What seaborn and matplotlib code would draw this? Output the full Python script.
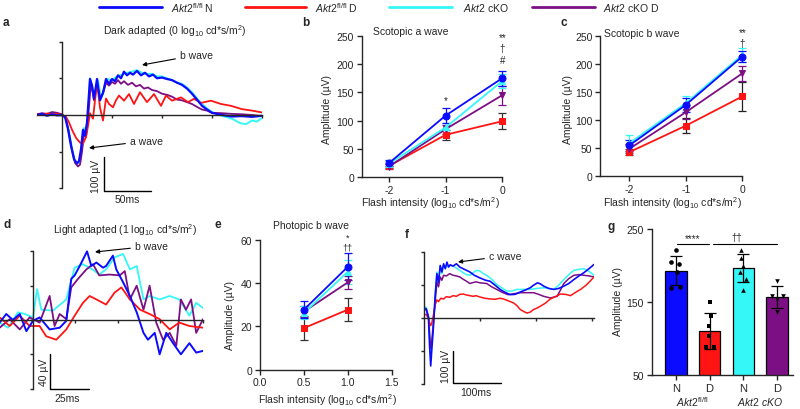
import numpy as np
import pandas as pd
import matplotlib
matplotlib.use('Agg')
import matplotlib.pyplot as plt
import seaborn as sns
from matplotlib.lines import Line2D

# group colours
BLUE = '#0b0bff'
RED = '#ff1414'
CYAN = '#35f7f7'
PURPLE = '#7d0f85'

# ---------------- data ----------------
# a: dark adapted ERG traces (time ms, amplitude uV)
a_n_t = [-25, -20, -15, -10, -5, 0, 3, 6, 9, 12, 15, 17, 19, 21, 23, 25, 28, 30, 32, 35, 38, 41, 44, 47, 50, 53, 56, 59, 62, 65, 68, 71, 75, 79, 83, 87, 91, 95, 100, 105, 110, 115, 120, 125, 130, 135, 140, 145, 150, 155, 160, 170, 180, 190, 200]
a_n_v = [0, 3, -2, 2, -1, 0, -5, -38, -84, -120, -132, -125, -93, -40, -56, -20, 98, 80, 44, 98, 40, 60, 98, 85, 98, 92, 108, 100, 118, 108, 115, 110, 120, 108, 115, 105, 110, 100, 102, 98, 95, 88, 82, 72, 58, 42, 25, 15, 6, 3, 0, -4, -3, -5, -2]
a_c_t = [-25, -15, -5, 0, 4, 7, 10, 13, 16, 18, 20, 22, 24, 26, 28, 31, 33, 36, 39, 42, 45, 50, 55, 60, 65, 70, 75, 80, 85, 90, 95, 100, 105, 110, 115, 120, 125, 130, 135, 140, 145, 150, 160, 170, 178, 184, 190, 195, 200]
a_c_v = [2, 0, 3, 0, -10, -45, -90, -125, -130, -128, -90, -35, -50, 0, 100, 70, 45, 95, 45, 70, 98, 95, 105, 110, 115, 118, 122, 115, 112, 112, 105, 105, 100, 95, 88, 85, 75, 62, 45, 30, 18, 8, -2, -10, -22, -25, -15, -18, -8]
a_cd_t = [-25, -20, -15, -10, -5, 0, 4, 7, 10, 13, 16, 18, 20, 22, 24, 26, 29, 32, 35, 38, 41, 44, 47, 50, 53, 56, 59, 62, 66, 70, 74, 78, 82, 86, 90, 95, 100, 105, 110, 115, 120, 125, 130, 135, 140, 145, 150, 160, 170, 180, 190, 200]
a_cd_v = [2, 5, 3, 8, 6, 2, -10, -50, -95, -130, -140, -135, -100, -50, -60, -10, 90, 40, 85, 45, 60, 88, 80, 90, 85, 95, 85, 92, 82, 88, 78, 82, 72, 75, 68, 65, 58, 55, 50, 42, 40, 35, 30, 22, 15, 12, 6, 5, 3, 2, 0, -3]
a_d_t = [-25, -20, -15, -10, -5, 0, 4, 7, 10, 14, 18, 21, 24, 26, 28, 31, 35, 38, 41, 44, 47, 51, 54, 57, 62, 67, 72, 78, 85, 92, 99, 104, 110, 119, 126, 132, 139, 149, 159, 169, 180, 190, 200]
a_d_v = [3, 0, 4, 2, 3, 0, -5, -20, -40, -62, -75, -78, -60, -30, 5, -10, 90, 20, -15, 45, 30, 21, 40, 53, 39, 57, 30, 62, 35, 57, 25, 53, 39, 48, 35, 44, 33, 39, 30, 25, 16, 12, 7]

# b: scotopic a wave (log intensity, mean, sem)
sa_x = [-2, -1, 0]
sa_n, sa_n_err = [25, 109, 175], [5, 13, 13]
sa_d, sa_d_err = [20, 75, 99], [4, 9, 14]
sa_c, sa_c_err = [24, 88, 170], [5, 8, 12]
sa_cd, sa_cd_err = [19, 85, 145], [5, 8, 17]

# c: scotopic b wave
sb_x = [-2, -1, 0]
sb_n, sb_n_err = [55, 127, 213], [10, 12, 10]
sb_d, sb_d_err = [43, 90, 142], [5, 13, 26]
sb_c, sb_c_err = [59, 130, 216], [15, 13, 13]
sb_cd, sb_cd_err = [49, 114, 183], [8, 12, 14]

# d: light adapted ERG traces
d_n_t = [-19.6, -15.7, -11.8, -7.8, -3.9, 0, 3.9, 9.8, 15.7, 19.6, 22.5, 24.5, 27.5, 31.8, 34.3, 37.3, 41.2, 43, 47, 49, 53, 57, 61, 65, 67.6, 71.6, 74.5, 78.4, 82.4, 87, 92, 96, 100]
d_n_v = [-3, 7, 0, 7, -13, -1, 3, -11, -9, -1, 48, 52, 63, 80, 63, 67, 61, 63, 75, 59, 44, 28, 9, -15, -23, -15, -40, -15, -27, -40, -27, -38, -36]
d_c_t = [-19.6, -14.7, -8.8, -4.9, 0, 2.4, 4.9, 11.8, 19.6, 24.5, 29.4, 35, 39, 43, 48, 53, 57, 61, 65, 68.6, 74.5, 80.4, 86, 92, 96, 100]
d_c_v = [-3, -9, 9, 7, 3, 36, 12, 11, 24, 61, 65, 59, 53, 59, 73, 77, 59, 63, 24, 28, 24, 28, 24, 5, 20, 14]
d_cd_t = [-19.6, -13.7, -7.8, -2, 3.9, 9.8, 12.7, 15.7, 19.6, 22.5, 26.5, 31.4, 35.3, 39, 45, 51, 54, 57, 61, 65, 68.6, 72.5, 76.5, 80.4, 84.3, 87, 90, 93, 96, 100]
d_cd_v = [-9, 1, -11, 3, -3, 28, -7, 7, 1, 38, 48, 59, 65, 52, 53, 52, 57, 24, 40, 12, 40, -3, -23, -15, -30, 24, 12, 24, -15, 1]
d_d_t = [-19.6, -13.7, -7.8, -2, 3.9, 7.8, 13.7, 19.6, 24.5, 29.4, 33.3, 37.3, 43, 48, 52, 57, 63, 68.6, 74.5, 80.4, 86, 92, 100]
d_d_v = [3, -7, 5, -7, -7, -19, -23, -11, 5, 20, 28, 24, 18, 32, 38, 24, 12, 7, 1, -11, -3, -7, -9]

# e: photopic b wave
pb_x = [0.5, 1.0]
pb_n, pb_n_err = [27.7, 47.5], [3.8, 6.2]
pb_d, pb_d_err = [19.2, 27.7], [5.6, 5.2]
pb_c, pb_c_err = [26.2, 45.2], [3.0, 5.5]
pb_cd, pb_cd_err = [26.8, 40.3], [2.5, 3.0]

# f: c wave traces
f_n_t = [0, 4, 8, 10, 12, 14, 17, 20, 23, 26, 29, 32, 35, 38, 41, 44, 47, 52, 58, 64, 70, 76, 82, 90, 100, 110, 118, 127, 136, 145, 154, 163, 172, 181, 190, 196, 203, 208, 214, 223, 232, 241, 250, 259, 268, 277, 286, 295, 304]
f_n_v = [30, 28, 0, -85, -146, -95, -23, 68, 135, 109, 160, 140, 165, 150, 170, 155, 162, 158, 165, 155, 150, 145, 140, 130, 122, 115, 112, 100, 87, 78, 71, 72, 79, 85, 92, 100, 107, 104, 97, 90, 87, 90, 97, 105, 117, 128, 138, 150, 163]
f_c_t = [0, 4, 8, 10, 12, 14, 17, 20, 23, 26, 29, 32, 35, 40, 46, 52, 58, 64, 70, 76, 82, 88, 94, 100, 106, 112, 121, 130, 139, 148, 157, 166, 178, 190, 202, 214, 223, 232, 241, 250, 259, 268, 277, 286, 295, 304]
f_c_v = [35, 32, 5, -60, -115, -80, -10, 70, 140, 110, 155, 135, 160, 155, 160, 158, 152, 145, 138, 132, 130, 138, 145, 143, 135, 130, 118, 102, 92, 82, 82, 87, 87, 87, 90, 92, 90, 87, 100, 117, 132, 145, 148, 150, 142, 130]
f_cd_t = [0, 4, 8, 10, 12, 14, 17, 20, 23, 26, 29, 32, 35, 40, 46, 52, 58, 64, 70, 76, 82, 88, 93, 100, 112, 121, 130, 140, 150, 161, 172, 184, 196, 205, 214, 226, 238, 244, 250, 259, 268, 277, 286, 295, 304]
f_cd_v = [25, 25, 5, -45, -92, -70, -10, 50, 110, 95, 125, 115, 130, 128, 135, 130, 128, 125, 118, 112, 105, 108, 110, 107, 105, 95, 87, 78, 71, 74, 77, 77, 77, 72, 66, 61, 66, 85, 105, 120, 130, 132, 130, 128, 125]
f_d_t = [0, 4, 8, 10, 12, 14, 17, 20, 23, 26, 30, 35, 40, 46, 52, 58, 64, 70, 76, 82, 88, 93, 100, 109, 118, 127, 136, 142, 151, 160, 166, 172, 178, 184, 190, 196, 202, 208, 217, 226, 235, 244, 253, 262, 271, 280, 290, 297, 304]
f_d_v = [12, 10, 0, -15, -23, -15, 10, 40, 55, 50, 60, 58, 65, 63, 68, 66, 72, 73, 70, 68, 66, 68, 64, 60, 58, 57, 60, 58, 52, 46, 38, 26, 20, 15, 18, 26, 30, 36, 45, 58, 65, 73, 72, 68, 78, 87, 100, 112, 125]

# g: amplitude per group (mean, sd, individual animals)
g_groups = ['Akt2 fl/fl N', 'Akt2 fl/fl D', 'Akt2 cKO N', 'Akt2 cKO D']
g_ticks = ['N', 'D', 'N', 'D']
g_means = [193, 110, 196, 157]
g_sd = [20, 25, 19, 15]
g_pts = [[221.6, 204.6, 202.3, 190.6, 168.6, 170.0],
         [150.3, 131.0, 117.4, 102.8, 87.7, 88.6],
         [221.6, 209.8, 199.7, 190.6, 181.4, 166.3],
         [179.0, 158.5, 157.7, 154.0, 136.6]]
# horizontal spread of the dots (layout only)
g_jit = [[0.01, -0.15, 0.10, 0.04, -0.15, 0.12],
         [0.0, 0.03, -0.02, -0.02, -0.11, 0.13],
         [-0.06, -0.06, -0.01, -0.11, 0.07, -0.01],
         [0.01, -0.16, 0.17, 0.01, 0.0]]

# ---------------- style ----------------
sns.set_style('ticks')
plt.rcParams['font.family'] = ['Liberation Sans', 'DejaVu Sans']
plt.rcParams['mathtext.fontset'] = 'custom'
plt.rcParams['mathtext.rm'] = 'Liberation Sans'
plt.rcParams['mathtext.it'] = 'Liberation Sans:italic'
plt.rcParams['mathtext.bf'] = 'Liberation Sans:bold'
plt.rcParams['axes.linewidth'] = 1.0
FS = 7.5

W, H = 800, 410
fig = plt.figure(figsize=(8, 4.1), dpi=100)


def box(x0, y0, x1, y1):
    return fig.add_axes([x0 / W, 1 - y1 / H, (x1 - x0) / W, (y1 - y0) / H])


def ftext(x, y, s, **kw):
    kw.setdefault('fontsize', FS)
    kw.setdefault('ha', 'center')
    kw.setdefault('va', 'center')
    fig.text(x / W, 1 - y / H, s, **kw)


def arrow(text, tip, tail):
    plt.annotate(text, xy=(tip[0] / W, 1 - tip[1] / H), xytext=(tail[0] / W, 1 - tail[1] / H),
                 xycoords='figure fraction', textcoords='figure fraction',
                 fontsize=FS, ha='left', va='center',
                 arrowprops=dict(arrowstyle='-|>', color='k', lw=0.8, mutation_scale=6,
                                 shrinkA=1, shrinkB=0))


def trace_panel(ax, traces, xlim, ylim, ybound, yticks, xticks):
    for t, v, col, lw in traces:
        sns.lineplot(x=t, y=v, color=col, lw=lw, ax=ax, sort=False, estimator=None)
    ax.set_xlim(xlim)
    ax.set_ylim(ylim)
    for s in ['top', 'right']:
        ax.spines[s].set_visible(False)
    ax.spines['left'].set_position(('data', 0))
    ax.spines['left'].set_bounds(*ybound)
    ax.spines['bottom'].set_position(('data', 0))
    ax.set_yticks(yticks)
    ax.set_xticks(xticks)
    ax.set_yticklabels([])
    ax.set_xticklabels([])
    ax.tick_params(length=2.5, width=1.0)
    ax.set_xlabel('')
    ax.set_ylabel('')
    ax.patch.set_alpha(0)


def dose_panel(ax, x, series, xlim, ylim, yticks, xticks, xticklabels):
    for v, e, col, mk, ecol in series:
        ax.errorbar(x, v, yerr=e, fmt='none', ecolor=ecol, elinewidth=0.9,
                    capsize=3, capthick=0.9, clip_on=False, zorder=2)
        sns.lineplot(x=x, y=v, color=col, marker=mk, markersize=5, markeredgecolor=col,
                     lw=1.3, ax=ax, clip_on=False, zorder=3)
    ax.set_xlim(xlim)
    ax.set_ylim(ylim)
    ax.set_yticks(yticks)
    ax.set_xticks(xticks)
    ax.set_xticklabels(xticklabels)
    sns.despine(ax=ax)
    ax.tick_params(labelsize=FS, length=3.5, width=1.0, pad=2)
    ax.set_xlabel('')
    ax.set_ylabel('')
    ax.patch.set_alpha(0)


def mark(ax, x, y, s, fs=7):
    ax.text(x, y, s, ha='center', va='center', fontsize=fs, clip_on=False)


flash = 'Flash intensity (log$_{10}$ cd*s/m$^2$)'

# ---------------- legend ----------------
leg_items = [(99, 162, 171, BLUE, r'$\mathit{Akt2}^{\mathrm{fl/fl}}$ N'),
             (245, 306, 315, RED, r'$\mathit{Akt2}^{\mathrm{fl/fl}}$ D'),
             (389, 452, 463, CYAN, r'$\mathit{Akt2}$ cKO'),
             (532, 595, 603, PURPLE, r'$\mathit{Akt2}$ cKO D')]
for x0, x1, xt, col, lab in leg_items:
    fig.add_artist(Line2D([x0 / W, x1 / W], [1 - 8 / H, 1 - 8 / H], color=col, lw=2))
    ftext(xt, 8, lab, ha='left')

# ---------------- a ----------------
ax = box(37, 40.7, 262, 195)
trace_panel(ax, [(a_c_t, a_c_v, CYAN, 1.4), (a_cd_t, a_cd_v, PURPLE, 1.3),
                 (a_d_t, a_d_v, RED, 1.3), (a_n_t, a_n_v, BLUE, 1.6)],
            (-25, 200), (-215, 205), (-200, 200), [-200, -100, 0, 100, 200], [50, 100, 150, 200])
ax.plot([42, 42, 89], [-114, -208, -208], color='k', lw=1.0, clip_on=False)
ftext(96, 176, '100 µV', rotation=90)
ftext(127, 200, '50ms')
ftext(175, 31, 'Dark adapted (0 log$_{10}$ cd*s/m$^2$)')
arrow('b wave', (142, 66), (180, 56))
arrow('a wave', (89, 149), (130, 142))
ftext(6, 23, 'a', fontweight='bold', fontsize=8.5)

# ---------------- b ----------------
ax = box(361.7, 36.7, 502.3, 178.3)
dose_panel(ax, sa_x, [(sa_d, sa_d_err, RED, 's', '#333333'), (sa_cd, sa_cd_err, PURPLE, 'v', PURPLE),
                      (sa_c, sa_c_err, CYAN, '^', CYAN), (sa_n, sa_n_err, BLUE, 'o', BLUE)],
           (-2.48, 0), (0, 250), [0, 50, 100, 150, 200, 250], [-2, -1, 0], ['-2', '-1', '0'])
mark(ax, 0, 247, '**')
mark(ax, 0, 228, '†')
mark(ax, 0, 207, '#')
mark(ax, -1, 136, '*')
ftext(373, 32, 'Scotopic a wave', ha='left')
ftext(327, 110, 'Amplitude (µV)', rotation=90)
ftext(430, 203, flash)
ftext(306, 23, 'b', fontweight='bold', fontsize=8.5)

# ---------------- c ----------------
ax = box(600, 36.7, 742.3, 177.3)
dose_panel(ax, sb_x, [(sb_d, sb_d_err, RED, 's', '#222222'), (sb_cd, sb_cd_err, PURPLE, 'v', PURPLE),
                      (sb_c, sb_c_err, CYAN, '^', CYAN), (sb_n, sb_n_err, BLUE, 'o', BLUE)],
           (-2.52, 0), (0, 250), [0, 50, 100, 150, 200, 250], [-2, -1, 0], ['-2', '-1', '0'])
mark(ax, 0, 256, '**')
mark(ax, 0, 237.5, '†')
ftext(604, 34, 'Scotopic b wave', ha='left')
ftext(568, 109, 'Amplitude (µV)', rotation=90)
ftext(672, 203, flash)
ftext(564, 23, 'c', fontweight='bold', fontsize=8.5)

# ---------------- d ----------------
ax = box(0, 248.1, 203, 393.9)
trace_panel(ax, [(d_c_t, d_c_v, CYAN, 1.3), (d_cd_t, d_cd_v, PURPLE, 1.3),
                 (d_d_t, d_d_v, RED, 1.3), (d_n_t, d_n_v, BLUE, 1.4)],
            (-19.4, 100), (-85, 85), (-80, 80), [-80, -40, 0, 40, 80], [25, 50, 75, 100])
ax.plot([10, 10, 33], [-40, -80, -80], color='k', lw=1.0, clip_on=False)
ftext(44, 372, '40 µV', rotation=90)
ftext(67, 399, '25ms')
ftext(125, 230, 'Light adapted (1 log$_{10}$ cd*s/m$^2$)')
arrow('b wave', (95, 253), (135, 247))
ftext(7, 225, 'd', fontweight='bold', fontsize=8.5)

# ---------------- e ----------------
ax = box(260, 240.7, 391.7, 370.7)
dose_panel(ax, pb_x, [(pb_d, pb_d_err, RED, 's', '#333333'), (pb_cd, pb_cd_err, PURPLE, 'v', PURPLE),
                      (pb_c, pb_c_err, CYAN, '^', CYAN), (pb_n, pb_n_err, BLUE, 'o', BLUE)],
           (0, 1.5), (0, 60), [0, 20, 40, 60], [0, 0.5, 1.0, 1.5], ['0.0', '0.5', '1.0', '1.5'])
mark(ax, 1.0, 61.0, '*', fs=6.5)
mark(ax, 1.0, 56.6, '††', fs=6.5)
ftext(311, 226, 'Photopic b wave')
ftext(230, 316, 'Amplitude (µV)', rotation=90)
ftext(327, 400, flash)
ftext(218, 225, 'e', fontweight='bold', fontsize=8.5)

# ---------------- f ----------------
ax = box(424, 250, 594, 388)
trace_panel(ax, [(f_c_t, f_c_v, CYAN, 1.1), (f_cd_t, f_cd_v, PURPLE, 1.1),
                 (f_d_t, f_d_v, RED, 1.1), (f_n_t, f_n_v, BLUE, 1.2)],
            (0, 304), (-210, 210), (-200, 200), [-200, -100, 0, 100, 200], [100, 200, 300])
ax.plot([52, 52, 138], [-100, -199, -199], color='k', lw=1.0, clip_on=False)
ftext(446, 366, '100 µV', rotation=90)
ftext(476, 393, '100ms')
arrow('c wave', (458, 263), (489, 257))
ftext(407, 235, 'f', fontweight='bold', fontsize=8.5)

# ---------------- g ----------------
ax = box(651.7, 230, 793, 375.7)
df_g = pd.DataFrame({'group': g_groups, 'amp': g_means})
sns.barplot(data=df_g, x='group', y='amp', hue='group', palette=[BLUE, RED, CYAN, PURPLE],
            width=0.64, edgecolor='k', linewidth=0.9, saturation=1, legend=False, ax=ax)
ax.errorbar(range(4), g_means, yerr=g_sd, fmt='none', ecolor='k', elinewidth=0.9,
            capsize=4.3, capthick=0.9, zorder=3)
for i, (pts, mk) in enumerate(zip(g_pts, ['o', 's', '^', 'v'])):
    ax.scatter(np.array(g_jit[i]) + i, pts, marker=mk, color='k', s=11, zorder=4, linewidths=0)
ax.set_xlim(-0.715, 3.47)
ax.set_ylim(50, 250)
ax.set_yticks([50, 150, 250])
ax.set_xticks(range(4))
ax.set_xticklabels(g_ticks)
sns.despine(ax=ax)
ax.tick_params(axis='y', labelsize=FS, length=3.5, width=1.0, pad=2)
ax.tick_params(axis='x', labelsize=8, length=3.5, width=1.0, pad=2.5)
ax.set_xlabel('')
ax.set_ylabel('')
ax.plot([0.03, 0.97], [229.4, 229.4], color='k', lw=0.8)
ax.plot([1.11, 3.0], [229.4, 229.4], color='k', lw=0.8)
mark(ax, 0.5, 237, '****')
mark(ax, 1.8, 239, '††')
ftext(618, 302, 'Amplitude (µV)', rotation=90)
ftext(692, 402.5, r'$\mathit{Akt2}^{\mathrm{fl/fl}}$', fontsize=7.5)
ftext(760, 402.5, r'$\mathit{Akt2\ cKO}$', fontsize=7.5)
ftext(611, 227, 'g', fontweight='bold', fontsize=8.5)

fig.savefig('out.png', dpi=100)
